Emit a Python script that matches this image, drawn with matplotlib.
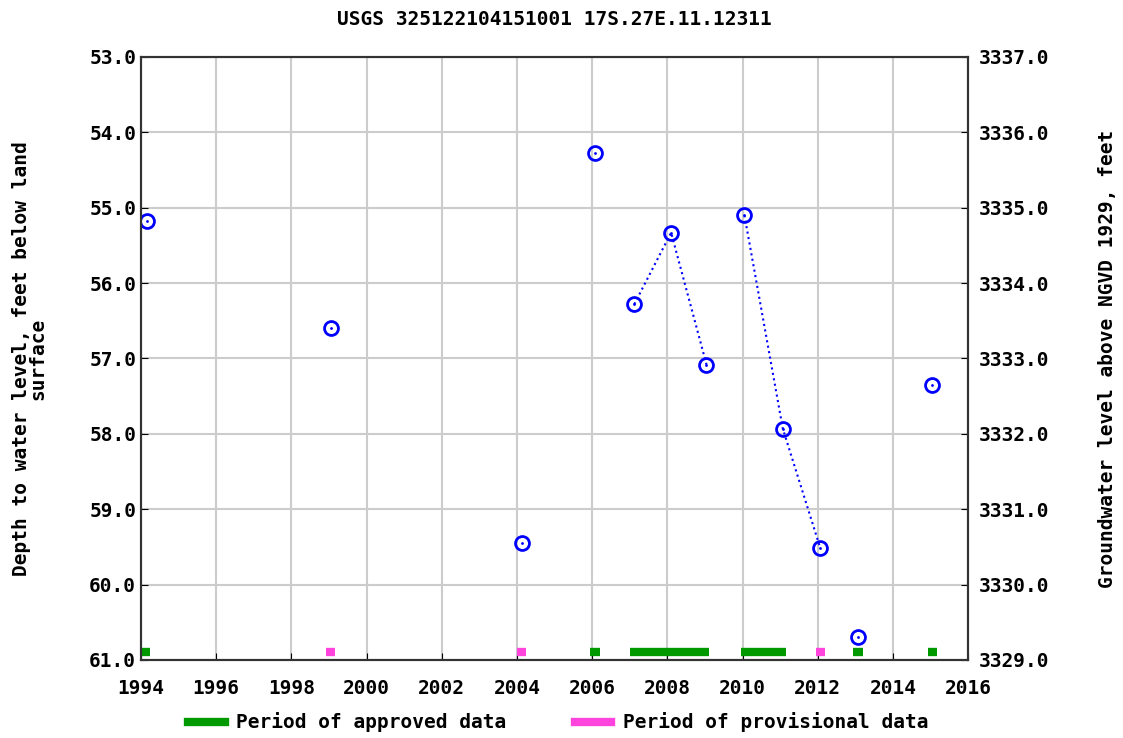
import numpy as np
import matplotlib.pyplot as plt
from matplotlib.lines import Line2D

# measurements: decimal year, depth to water (ft below land surface)
years = [1994.15, 1999.05, 2004.12, 2006.07, 2007.12, 2008.1, 2009.04,
         2010.05, 2011.07, 2012.07, 2013.07, 2015.05]
depth = [55.17, 56.6, 59.45, 54.28, 56.28, 55.33, 57.08,
         55.1, 57.93, 59.52, 60.7, 57.35]
# which points are joined by dotted lines
groups = [[0], [1], [2], [3], [4, 5, 6], [7, 8, 9], [10], [11]]

approved = [(1994.0, 1994.25), (2005.95, 2006.2), (2007.0, 2009.1),
            (2009.95, 2011.15), (2012.95, 2013.2), (2014.92, 2015.17)]
provisional = [(1998.93, 1999.17), (2004.0, 2004.25), (2011.95, 2012.2)]

datum = 3390.0  # land surface elevation, NGVD 1929

fs = 14
plt.rcParams['font.family'] = ['DejaVu Sans Mono']
plt.rcParams['font.weight'] = 'bold'
plt.rcParams['axes.labelweight'] = 'bold'
plt.rcParams['axes.titleweight'] = 'bold'

fig = plt.figure(figsize=(11.23, 7.38), dpi=100)
ax = fig.add_axes([0.1256, 0.1057, 0.7365, 0.8171])

for g in groups:
    xs = [years[i] for i in g]
    ys = [depth[i] for i in g]
    ax.plot(xs, ys, ':', color='blue', lw=1.5, zorder=3)
ax.plot(years, depth, 'o', ms=10, mfc='none', mec='blue', mew=2, zorder=4)
ax.plot(years, depth, '.', ms=2, color='blue', zorder=4)

for a, b in approved:
    ax.plot([a, b], [60.9, 60.9], color='#009900', lw=6, solid_capstyle='butt', zorder=2)
for a, b in provisional:
    ax.plot([a, b], [60.9, 60.9], color='#ff44dd', lw=6, solid_capstyle='butt', zorder=2)

ax.set_xlim(1994, 2016)
ax.set_ylim(61, 53)
ax.set_xticks(np.arange(1994, 2017, 2))
ax.set_yticks(np.arange(53, 61.5, 1))
ax.set_yticklabels(['%.1f' % v for v in np.arange(53, 61.5, 1)])
ax.grid(True, color='#cccccc', lw=1.5)
ax.set_axisbelow(True)
ax.tick_params(direction='in', labelsize=fs, length=5)
ax.tick_params(axis='x', pad=14)
for s in ax.spines.values():
    s.set_linewidth(1.5)
    s.set_color('#333333')

ax.set_ylabel('Depth to water level, feet below land\nsurface', fontsize=fs,
              linespacing=0.85, labelpad=30)
ax.set_title('USGS 325122104151001 17S.27E.11.12311', fontsize=fs, pad=23)

ax2 = ax.twinx()
ax2.set_ylim(datum - 61, datum - 53)
ax2.set_yticks(np.arange(3329, 3337.5, 1))
ax2.set_yticklabels(['%.1f' % v for v in np.arange(3329, 3337.5, 1)])
ax2.tick_params(direction='in', labelsize=fs, length=5, pad=8)
ax2.set_ylabel('Groundwater level above NGVD 1929, feet', fontsize=fs, labelpad=35)
for s in ax2.spines.values():
    s.set_linewidth(1.5)
    s.set_color('#333333')

handles = [Line2D([0], [0], color='#009900', lw=6),
           Line2D([0], [0], color='#ff44dd', lw=6)]
fig.legend(handles, ['Period of approved data', 'Period of provisional data'],
           loc='lower center', bbox_to_anchor=(0.497, -0.016), ncol=2, frameon=False,
           fontsize=fs, handlelength=1.9, handletextpad=0.6, columnspacing=3.5)

fig.savefig('out.png', dpi=100)
